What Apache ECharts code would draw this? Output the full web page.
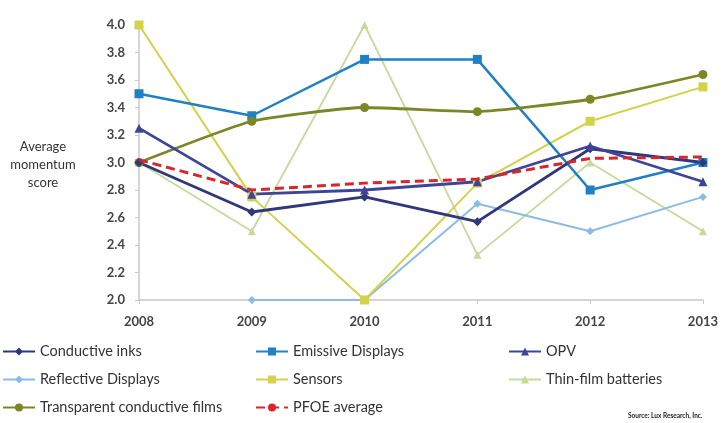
<!DOCTYPE html>
<html>
<head>
<meta charset="utf-8">
<script src="https://cdn.jsdelivr.net/npm/echarts@6/dist/echarts.min.js"></script>
<style>
  html, body { margin: 0; padding: 0; background: #fff; }
  #chart { width: 721px; height: 423px; }
</style>
</head>
<body>
<div id="chart"></div>
<script>
// Momentum scores per technology, 2008-2013
const years = ['2008', '2009', '2010', '2011', '2012', '2013'];
const yTicks = [2.0, 2.2, 2.4, 2.6, 2.8, 3.0, 3.2, 3.4, 3.6, 3.8, 4.0];

const conductiveInks = [3.0, 2.64, 2.75, 2.57, 3.1, 3.0];
const emissiveDisplays = [3.5, 3.34, 3.75, 3.75, 2.8, 3.0];
const opv = [3.25, 2.77, 2.8, 2.86, 3.12, 2.86];
const reflectiveDisplays = [null, 2.0, 2.0, 2.7, 2.5, 2.75];
const sensors = [4.0, 2.75, 2.0, 2.85, 3.3, 3.55];
const thinFilmBatteries = [3.0, 2.5, 4.0, 2.33, 3.0, 2.5];
const transparentFilms = [3.0, 3.3, 3.4, 3.37, 3.46, 3.64];
const pfoeAverage = [3.02, 2.8, 2.85, 2.88, 3.03, 3.04];

const font = 'Lato, "Open Sans", sans-serif';

function line(name, data, color, symbol, opts) {
  opts = opts || {};
  return {
    name: name,
    type: 'line',
    data: data,
    symbol: symbol,
    symbolSize: opts.size || 8,
    smooth: opts.smooth || false,
    connectNulls: false,
    z: opts.z || 2,
    itemStyle: { color: color },
    lineStyle: { color: color, width: opts.width || 2.5, type: opts.dash || 'solid' },
    showSymbol: symbol !== 'none'
  };
}

const chart = echarts.init(document.getElementById('chart'));

const legendBase = {
  orient: 'vertical',
  padding: 0,
  itemWidth: 32,
  itemHeight: 10,
  itemGap: 13,
  textStyle: { fontFamily: font, fontSize: 14.5, color: '#333' }
};

chart.setOption({
  animation: false,
  backgroundColor: '#fff',
  grid: { left: 139, right: 13, top: 25, bottom: 123, containLabel: false },
  xAxis: {
    type: 'category',
    data: years,
    boundaryGap: false,
    axisLine: { lineStyle: { color: '#c8c8c8', width: 1.5 } },
    axisTick: { show: true, length: 4, lineStyle: { color: '#c8c8c8' } },
    axisLabel: { fontFamily: font, fontSize: 13, fontWeight: 'bold', color: '#444', margin: 15 },
    splitLine: { show: false }
  },
  yAxis: {
    type: 'value',
    min: yTicks[0],
    max: yTicks[yTicks.length - 1],
    interval: 0.2,
    axisLine: { show: true, lineStyle: { color: '#c8c8c8', width: 1.5 } },
    axisTick: { show: true, length: 4, lineStyle: { color: '#c8c8c8' } },
    axisLabel: {
      fontFamily: font, fontSize: 13, fontWeight: 'bold', color: '#444', margin: 14,
      formatter: v => v.toFixed(1)
    },
    splitLine: { show: false }
  },
  graphic: [
    {
      type: 'text', x: 43, y: 138,
      style: {
        text: 'Average\nmomentum\nscore', fill: '#333', font: '13px ' + font,
        align: 'center', lineHeight: 18
      }
    },
    {
      type: 'text', x: 628, y: 412,
      style: { text: 'Source: Lux Research, Inc.', fill: '#222', font: 'bold 6.5px ' + font }
    }
  ],
  legend: [
    Object.assign({}, legendBase, { left: 2, top: 344, data: ['Conductive inks', 'Reflective Displays', 'Transparent conductive films'] }),
    Object.assign({}, legendBase, { left: 255, top: 344, data: ['Emissive Displays', 'Sensors', 'PFOE average'] }),
    Object.assign({}, legendBase, { left: 508, top: 344, data: ['OPV', 'Thin-film batteries'] })
  ],
  series: [
    line('Thin-film batteries', thinFilmBatteries, '#c6da9c', 'triangle', { width: 1.8, size: 8, z: 1 }),
    line('Reflective Displays', reflectiveDisplays, '#8bbce4', 'diamond', { width: 2, size: 8 }),
    line('Sensors', sensors, '#d3d24a', 'rect', { width: 2, size: 9 }),
    line('Emissive Displays', emissiveDisplays, '#1f80c4', 'rect', { width: 2.5, size: 9 }),
    line('Transparent conductive films', transparentFilms, '#7b8626', 'circle', { width: 2.8, size: 9, smooth: 0.15 }),
    line('Conductive inks', conductiveInks, '#30377c', 'diamond', { width: 2.8, size: 9 }),
    line('OPV', opv, '#3d4597', 'triangle', { width: 2.8, size: 9 }),
    line('PFOE average', pfoeAverage, '#d8262b', 'none', { width: 3, dash: [9, 5], z: 5 })
  ]
});
</script>
</body>
</html>
